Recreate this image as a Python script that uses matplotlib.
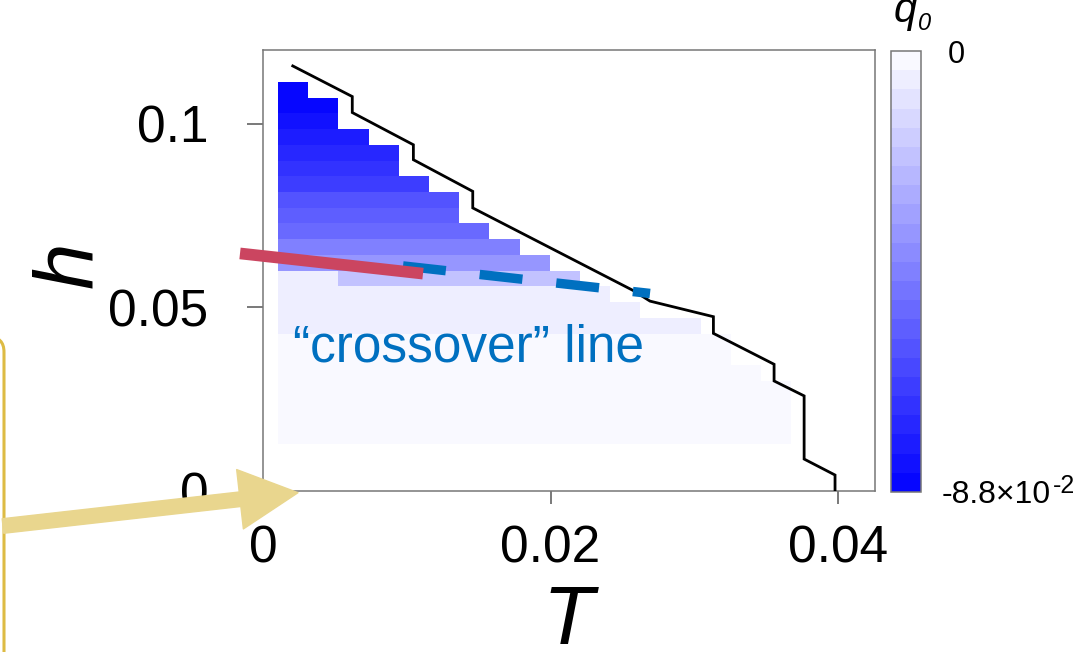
import numpy as np
import matplotlib
matplotlib.use('Agg')
import matplotlib.pyplot as plt
from matplotlib.colors import ListedColormap
from matplotlib.patches import FancyBboxPatch, FancyArrowPatch
from matplotlib.transforms import IdentityTransform

plt.rcParams['font.family'] = ['Liberation Sans', 'DejaVu Sans']
plt.rcParams['lines.scale_dashes'] = False

# ---------------- data ----------------
T_values = [0.0021, 0.0042, 0.0063, 0.0084, 0.0105, 0.0126, 0.0147, 0.0168,
            0.0189, 0.0210, 0.0231, 0.0252, 0.0273, 0.0294, 0.0315, 0.0336,
            0.0357, 0.0378, 0.0399]
h_values = [0.00214, 0.00643, 0.01071, 0.01500, 0.01929, 0.02357, 0.02786,
            0.03214, 0.03643, 0.04071, 0.04500, 0.04929, 0.05357, 0.05786,
            0.06214, 0.06643, 0.07071, 0.07500, 0.07929, 0.08357, 0.08786,
            0.09214, 0.09643, 0.10071, 0.10500, 0.10929]
# q0 profile along h (full-extent column), from bottom row to top row
q0_profile = [np.nan, np.nan, np.nan, -0.0020, -0.0020, -0.0020, -0.0020,
              -0.0020, -0.0020, -0.0020, -0.0045, -0.0045, -0.0045, -0.0211,
              -0.0363, -0.0441, -0.0516, -0.0555, -0.0593, -0.0670, -0.0708,
              -0.0746, -0.0784, -0.0822, -0.0860, -0.0875]
# highest occupied h-row for each T column
top_row = [25, 24, 22, 21, 19, 18, 16, 15, 14, 13, 12, 11, 10, 10, 9, 7, 6, 0, 0]
# row at h~0.058 for first two columns is lighter
row13_override_cols = [0, 1]
row13_override_q0 = [-0.0045, -0.0045]

# phase boundary (black line)
boundary_T = [0.00207, 0.00621, 0.00621, 0.01046, 0.01046, 0.01459, 0.01459,
              0.02574, 0.02692, 0.03133, 0.03133, 0.03555, 0.03555, 0.03764,
              0.03764, 0.03979, 0.03979]
boundary_h = [0.11576, 0.10742, 0.10307, 0.09429, 0.09022, 0.08160, 0.07709,
              0.05462, 0.05171, 0.04747, 0.04293, 0.03451, 0.02997, 0.02590,
              0.00870, 0.00435, 0.0]

# crossover lines
red_T = [-0.0016, 0.01113]
red_h = [0.0647, 0.0592]
blue_T = [0.00974, 0.02692]
blue_h = [0.0613, 0.0538]

q0_min, q0_max = -0.088, 0.0
n_levels = 23
x_ticks = [0, 0.02, 0.04]
x_ticklabels = ['0', '0.02', '0.04']
y_ticks = [0, 0.05, 0.1]
y_ticklabels = ['0', '0.05', '0.1']

# ---------------- figure ----------------
W, H = 1092, 652
fig = plt.figure(figsize=(W / 100, H / 100), dpi=100)
fig.patch.set_facecolor('white')

def fx(x):
    return x / W

def fy(y):
    return 1 - y / H

ax = fig.add_axes([fx(263), fy(491), fx(875) - fx(263), fy(50) - fy(491)])
cax = fig.add_axes([fx(891), fy(492), fx(921) - fx(891), fy(51) - fy(492)])

Tv = np.array(T_values)
hv = np.array(h_values)
T_edges = np.concatenate([[Tv[0] - (Tv[1] - Tv[0]) / 2], (Tv[:-1] + Tv[1:]) / 2,
                          [Tv[-1] + (Tv[-1] - Tv[-2]) / 2]])
h_edges = np.concatenate([[0.0], (hv[:-1] + hv[1:]) / 2,
                          [hv[-1] + (hv[-1] - hv[-2]) / 2]])

q0 = np.full((len(h_values), len(T_values)), np.nan)
for k, top in enumerate(top_row):
    q0[:top + 1, k] = q0_profile[:top + 1]
for c, v in zip(row13_override_cols, row13_override_q0):
    q0[13, c] = v
q0 = np.ma.masked_invalid(q0)

# white -> blue stepped colormap, colours sampled at band centres
t = (np.arange(n_levels) + 0.5) / n_levels
cols = np.stack([t, t, np.ones_like(t)], axis=1)
cmap = ListedColormap(cols)
cmap.set_bad((1, 1, 1, 0))
mesh = ax.pcolormesh(T_edges, h_edges, q0, cmap=cmap, vmin=q0_min, vmax=q0_max,
                     shading='flat', zorder=1)

ax.plot(boundary_T, boundary_h, color='black', lw=2.0, zorder=3,
        solid_joinstyle='miter')
ax.plot(blue_T, blue_h, color='#0070C0', lw=6.8, dashes=(31, 24.5),
        solid_capstyle='butt', dash_capstyle='butt', zorder=4, clip_on=False)
ax.plot(red_T, red_h, color='#CB4560', lw=8.4, solid_capstyle='butt',
        zorder=5, clip_on=False)

ax.set_xlim(0, 0.04257)
ax.set_ylim(0, 0.1201)
ax.set_xticks(x_ticks)
ax.set_xticklabels(x_ticklabels)
ax.set_yticks(y_ticks)
ax.set_yticklabels(y_ticklabels)
ax.tick_params(axis='y', direction='out', length=11.5, width=1.1, color='#555555',
               labelsize=37, pad=28)
ax.tick_params(axis='x', direction='out', length=9, width=1.1, color='#555555',
               labelsize=37, pad=15)
for sp in ax.spines.values():
    sp.set_edgecolor('#777777')
    sp.set_linewidth(1.1)

cb = fig.colorbar(mesh, cax=cax)
cb.set_ticks([])
cb.outline.set_edgecolor('#777777')
cb.outline.set_linewidth(1.1)

# colorbar labels
fig.text(fx(948), fy(63), '0', fontsize=22, ha='left', va='baseline')
fig.text(fx(942), fy(503), '-8.8\u00d710', fontsize=23, ha='left', va='baseline')
fig.text(fx(1053), fy(493), '-2', fontsize=18, ha='left', va='baseline')
fig.text(fx(894), fy(22), 'q', fontsize=30, style='italic', ha='left', va='baseline')
fig.text(fx(918), fy(30), '0', fontsize=17, style='italic', ha='left', va='baseline')

# axis labels
fig.text(fx(70), fy(265), 'h', fontsize=60, style='italic', rotation=90,
         ha='center', va='center')
fig.text(fx(568), fy(644), 'T', fontsize=60, style='italic', ha='center',
         va='baseline')

# annotation text
fig.text(fx(293), fy(361.7), '\u201ccrossover\u201d line', fontsize=37,
         color='#0070C0', ha='left', va='baseline')

# gold rounded box edge and arrow
box = FancyBboxPatch((-400, -100), 404, (H - 337) + 100,
                     boxstyle='round,pad=0,rounding_size=15',
                     transform=IdentityTransform(), fill=False,
                     edgecolor='#DDBB44', lw=2.2, zorder=10)
fig.add_artist(box)
arrow = FancyArrowPatch((3, H - 526), (298, H - 492.7),
                        arrowstyle='simple,head_length=42,head_width=43,tail_width=10.5',
                        transform=IdentityTransform(), color='#E9D68E',
                        shrinkA=0, shrinkB=0, zorder=11)
fig.add_artist(arrow)

fig.savefig('out.png', dpi=100)
